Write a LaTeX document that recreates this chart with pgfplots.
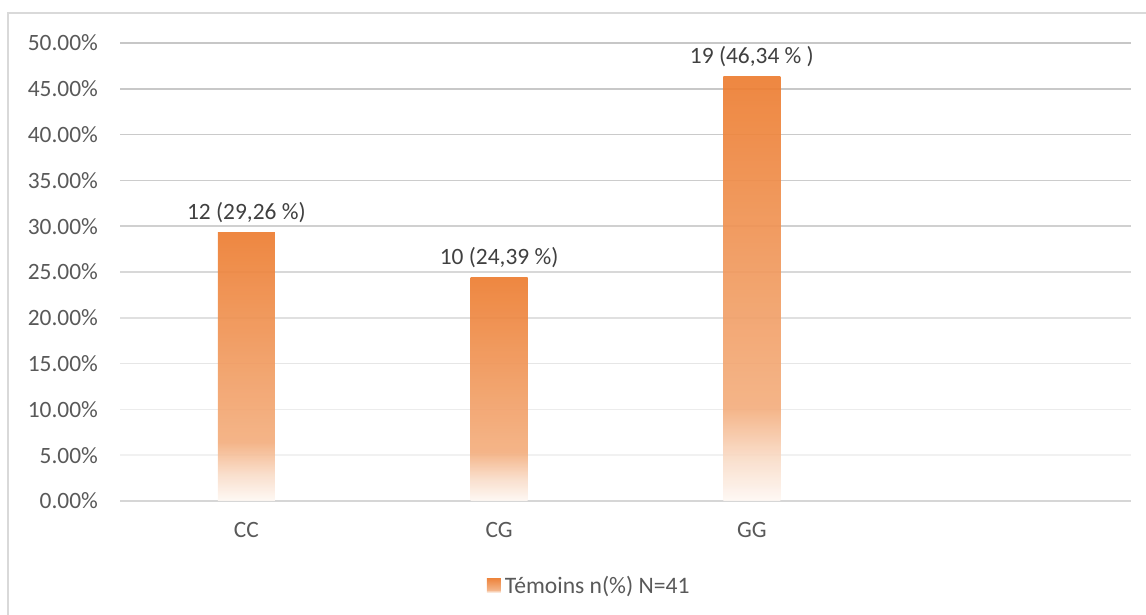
\documentclass[border=0pt]{standalone}
\usepackage{pgfplots}
\pgfplotsset{compat=1.18}
\usepackage{fontspec}
\setmainfont{Carlito}

\definecolor{barTop}{HTML}{ED7D31}
\definecolor{barMid}{HTML}{F3AE7E}
\definecolor{barFaint}{HTML}{F9DCC8}
\definecolor{barBot}{HTML}{FEF8F4}
\definecolor{tickText}{HTML}{595959}
\definecolor{labelText}{HTML}{404040}
\definecolor{frameGray}{HTML}{D9D9D9}

% orange at the top of each bar, fading out to white at its foot
\pgfdeclareverticalshading{barfade}{100bp}{%
  color(0bp)=(barBot); color(25bp)=(barBot); color(30bp)=(barFaint);
  color(36bp)=(barMid); color(75bp)=(barTop); color(100bp)=(barTop)}

\pgfplotsset{
  fadebar/.style={ybar, bar width=28.5pt, bar shift=0pt, draw=none,
    shading=barfade, fill opacity=0.92,
    point meta=explicit symbolic, nodes near coords,
    nodes near coords style={text=labelText, text opacity=1, anchor=south, yshift=1.5pt}},
}

\begin{document}
\begin{tikzpicture}
\useasboundingbox (0pt,0pt) rectangle (573pt,307.5pt);
% chart frame (left and top edges)
\draw[frameGray, line width=0.9pt] (4pt,-2pt) -- (4pt,301pt) -- (576pt,301pt);
\begin{axis}[
  at={(60pt,57pt)}, anchor=south west,
  scale only axis, width=505.5pt, height=229pt,
  xmin=-0.5, xmax=3.5, ymin=0, ymax=50,
  clip=false,
  font=\fontsize{11.7pt}{14pt}\selectfont,
  axis line style={draw=none},
  major tick length=0pt,
  /pgf/number format/assume math mode=true,
  xtick={0,1,2}, xticklabels={CC,CG,GG},
  ytick={0,5,...,50},
  yticklabels={0.00\%,5.00\%,10.00\%,15.00\%,20.00\%,25.00\%,30.00\%,35.00\%,40.00\%,45.00\%,50.00\%},
  tick label style={text=tickText},
  yticklabel style={xshift=-7.5pt},
  xticklabel style={yshift=-7pt},
  legend style={at={(0.3625,-0.1856)}, anchor=west, draw=none, fill=none,
    inner sep=0pt, text=tickText, font=\fontsize{11.8pt}{14pt}\selectfont},
  legend image code/.code={\shade[shading=barfade] (0pt,-3.5pt) rectangle (7pt,3.5pt);},
]
% horizontal grid, lighter towards the bottom
\draw[color={rgb,255:red,199;green,199;blue,199}, line width=0.75pt] (axis cs:-0.5,50) -- (axis cs:3.5,50);
\draw[color={rgb,255:red,200;green,200;blue,200}, line width=0.75pt] (axis cs:-0.5,45) -- (axis cs:3.5,45);
\draw[color={rgb,255:red,202;green,202;blue,202}, line width=0.75pt] (axis cs:-0.5,40) -- (axis cs:3.5,40);
\draw[color={rgb,255:red,204;green,204;blue,204}, line width=0.75pt] (axis cs:-0.5,35) -- (axis cs:3.5,35);
\draw[color={rgb,255:red,208;green,208;blue,208}, line width=0.75pt] (axis cs:-0.5,30) -- (axis cs:3.5,30);
\draw[color={rgb,255:red,216;green,216;blue,216}, line width=0.75pt] (axis cs:-0.5,25) -- (axis cs:3.5,25);
\draw[color={rgb,255:red,224;green,224;blue,224}, line width=0.75pt] (axis cs:-0.5,20) -- (axis cs:3.5,20);
\draw[color={rgb,255:red,230;green,230;blue,230}, line width=0.75pt] (axis cs:-0.5,15) -- (axis cs:3.5,15);
\draw[color={rgb,255:red,236;green,236;blue,236}, line width=0.75pt] (axis cs:-0.5,10) -- (axis cs:3.5,10);
\draw[color={rgb,255:red,241;green,241;blue,241}, line width=0.75pt] (axis cs:-0.5,5) -- (axis cs:3.5,5);
\draw[color={rgb,255:red,214;green,214;blue,214}, line width=1pt] (axis cs:-0.5,0) -- (axis cs:3.5,0);

% one plot per bar so that each bar carries its own fade
\addplot[fadebar] coordinates {(0,29.26) [12 (29,26 \%)]};
\addlegendentry{Témoins n(\%) N=41}
\addplot[fadebar, forget plot] coordinates {(1,24.39) [10 (24,39 \%)]};
\addplot[fadebar, forget plot] coordinates {(2,46.34) [19 (46,34 \% )]};
\end{axis}
\end{tikzpicture}
\end{document}
